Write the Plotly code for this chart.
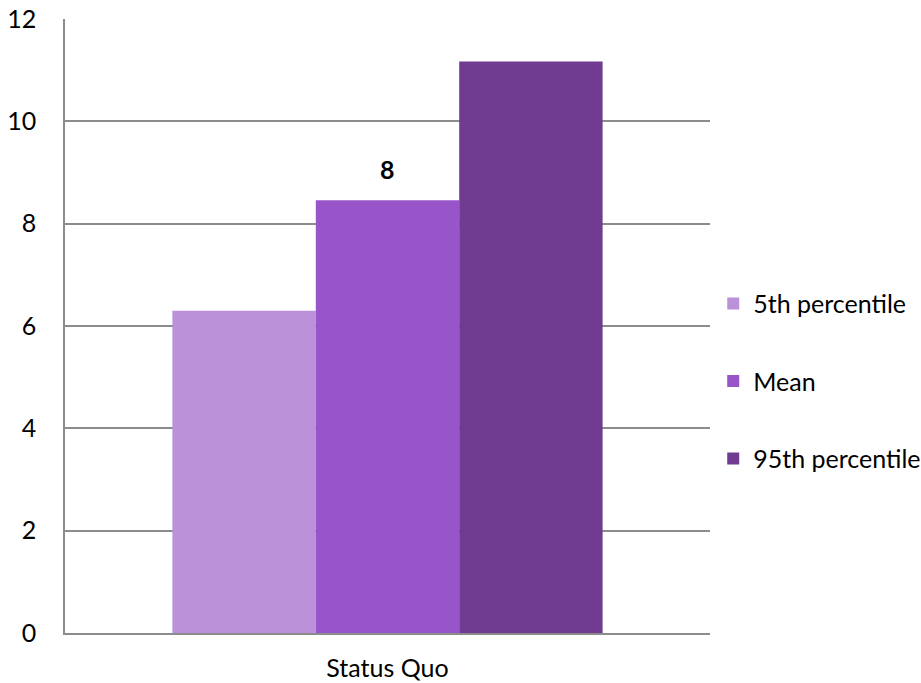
import plotly.graph_objects as go

categories = ["Status Quo"]
series_names = ["5th percentile", "Mean", "95th percentile"]
series_values = [[6.3], [8.46], [11.17]]
series_colors = ["#BB91DA", "#9855C9", "#6F3C91"]
y_ticks = [0, 2, 4, 6, 8, 10, 12]

FONT = "Lato, 'Open Sans', sans-serif"
FS = 25

fig = go.Figure()
for i, (name, vals, col) in enumerate(zip(series_names, series_values, series_colors)):
    fig.add_trace(go.Bar(
        x=categories, y=vals, name=name,
        marker=dict(color=col, line=dict(width=0)),
        legendgroup=f"g{i}",
    ))

# value label above the Mean bar
mean_val = series_values[1][0]
fig.add_annotation(
    x=categories[0], y=mean_val, text=f"<b>{mean_val:.0f}</b>",
    showarrow=False, yanchor="bottom", yshift=14,
    font=dict(family=FONT, size=FS, color="#000000"),
)

fig.update_layout(
    width=921, height=683,
    margin=dict(l=65, r=211, t=19, b=50, pad=0, autoexpand=False),
    paper_bgcolor="white", plot_bgcolor="white",
    barmode="group", bargap=0.333, bargroupgap=0,
    font=dict(family=FONT, size=FS, color="#000000"),
    legend=dict(
        x=1.005, xanchor="left", y=0.41, yanchor="middle",
        font=dict(family=FONT, size=FS, color="#000000"),
        tracegroupgap=42, itemwidth=30,
        bgcolor="rgba(0,0,0,0)",
    ),
    showlegend=True,
)
fig.update_yaxes(
    range=[0, 12], tickvals=y_ticks, ticktext=[str(t) for t in y_ticks],
    showgrid=True, gridcolor="#8C8C8C", gridwidth=1.5,
    showline=True, linecolor="#8C8C8C", linewidth=1.5,
    zeroline=False, ticks="", ticklabelstandoff=22, automargin=False,
    tickfont=dict(family=FONT, size=FS),
)
fig.update_xaxes(
    showline=True, linecolor="#8C8C8C", linewidth=1.5,
    showgrid=False, ticks="", ticklabelstandoff=12, automargin=False,
    tickfont=dict(family=FONT, size=FS),
)

fig.write_html("out.html")
